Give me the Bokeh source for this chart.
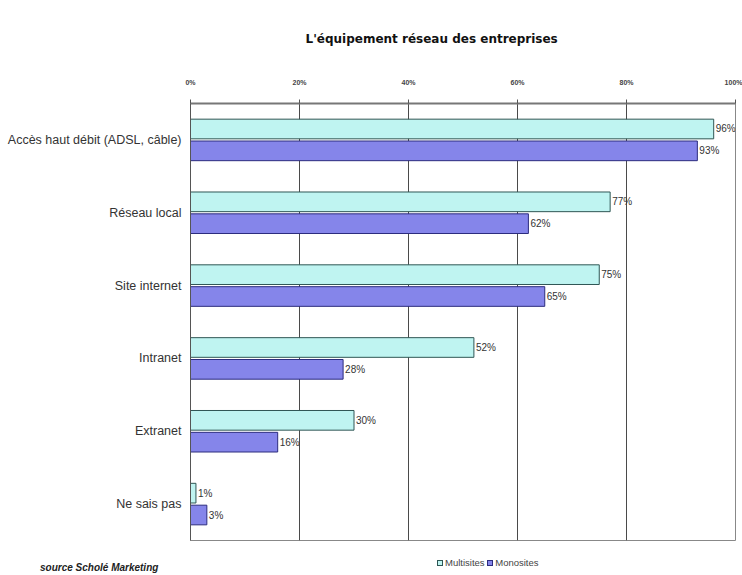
from bokeh.plotting import figure
from bokeh.layouts import column
from bokeh.models import (ColumnDataSource, FactorRange, LabelSet, Div, FixedTicker, Range1d)
from bokeh.transform import dodge
from bokeh.embed import file_html
from bokeh.resources import INLINE
from bokeh.core.properties import value

title_text = "L'équipement réseau des entreprises"
source_text = "source Scholé Marketing"
categories = ["Accès haut débit (ADSL, câble)", "Réseau local", "Site internet",
              "Intranet", "Extranet", "Ne sais pas"]
multisites = [96, 77, 75, 52, 30, 1]
monosites = [93, 62, 65, 28, 16, 3]
series_names = ["Multisites", "Monosites"]
x_ticks = [0, 20, 40, 60, 80, 100]
x_tick_labels = ["0%", "20%", "40%", "60%", "80%", "100%"]

src = ColumnDataSource(dict(
    cat=categories,
    multi=multisites,
    mono=monosites,
    multi_lbl=[f"{v}%" for v in multisites],
    mono_lbl=[f"{v}%" for v in monosites],
))

FONT = "Liberation Sans"
MULTI_FILL, MULTI_LINE = "#bff4f1", "#2f5654"
MONO_FILL, MONO_LINE = "#8585ea", "#2c2c7e"

p = figure(width=742, height=545, output_backend="svg", toolbar_location=None,
           y_range=FactorRange(*reversed(categories), range_padding=0),
           x_range=Range1d(0, 100), x_axis_location="above",
           min_border_left=190, min_border_right=7, min_border_top=97, min_border_bottom=5)

p.hbar(y=dodge("cat", 0.15, range=p.y_range), right="multi", left=0, height=0.27,
       source=src, fill_color=MULTI_FILL, line_color=MULTI_LINE, line_width=1)
p.hbar(y=dodge("cat", -0.15, range=p.y_range), right="mono", left=0, height=0.27,
       source=src, fill_color=MONO_FILL, line_color=MONO_LINE, line_width=1)

for col, lbl, off in (("multi", "multi_lbl", 0.15), ("mono", "mono_lbl", -0.15)):
    p.add_layout(LabelSet(x=col, y=dodge("cat", off, range=p.y_range), text=lbl, source=src,
                          x_offset=2, text_baseline="middle", text_font=value(FONT),
                          text_font_size="10px", text_color="#333333"))

# axes
p.xaxis.ticker = FixedTicker(ticks=x_ticks)
p.xaxis.major_label_overrides = {t: l for t, l in zip(x_ticks, x_tick_labels)}
p.xaxis.major_label_text_font_size = "7px"
p.xaxis.major_label_text_font_style = "bold"
p.xaxis.major_label_text_color = "#444444"
p.xaxis.major_label_standoff = 14
p.xaxis.axis_line_color = "#777777"
p.xaxis.axis_line_width = 2
p.xaxis.major_tick_line_color = "#555555"
p.xaxis.major_tick_in = 0
p.xaxis.major_tick_out = 4
p.xaxis.minor_tick_line_color = None

p.yaxis.major_label_text_font = FONT
p.yaxis.major_label_text_font_size = "12.5px"
p.yaxis.major_label_text_color = "#333333"
p.yaxis.major_tick_line_color = None
p.yaxis.axis_line_color = "#555555"
p.yaxis.major_label_standoff = 3

p.xgrid.ticker = FixedTicker(ticks=x_ticks)
p.xgrid.grid_line_color = "#4a4a4a"
p.xgrid.grid_line_width = 1
p.ygrid.grid_line_color = None
p.outline_line_color = "#888888"
p.background_fill_color = "white"
p.border_fill_color = "white"

# title (above)
p.title.text = title_text
p.title.align = "left"
p.title.offset = 115
p.title.text_font = "DejaVu Sans"
p.title.text_font_size = "12px"
p.title.text_font_style = "bold"
p.title.text_color = "#111111"
p.title.standoff = 59

# footer: source note and legend
def swatch(fill, line):
    return (f'<span style="display:inline-block;width:6px;height:6px;background:{fill};'
            f'border:1px solid {line};margin-right:2px;vertical-align:middle"></span>')

footer_html = (
    '<div style="position:relative;width:742px;height:30px;font-family:\'Liberation Sans\'">'
    f'<span style="position:absolute;left:40px;top:16px;font-size:10px;font-weight:bold;'
    f'font-style:italic;color:#222222;white-space:nowrap">{source_text}</span>'
    '<span style="position:absolute;left:437px;top:11px;font-size:9.5px;color:#444444;'
    'white-space:nowrap">'
    f'{swatch(MULTI_FILL, MULTI_LINE)}{series_names[0]} '
    f'{swatch(MONO_FILL, MONO_LINE)}{series_names[1]}</span></div>'
)
footer = Div(text=footer_html, width=742, height=30, margin=0)

layout = column(p, footer, spacing=0)
open("out.html", "w").write(file_html(layout, INLINE))
